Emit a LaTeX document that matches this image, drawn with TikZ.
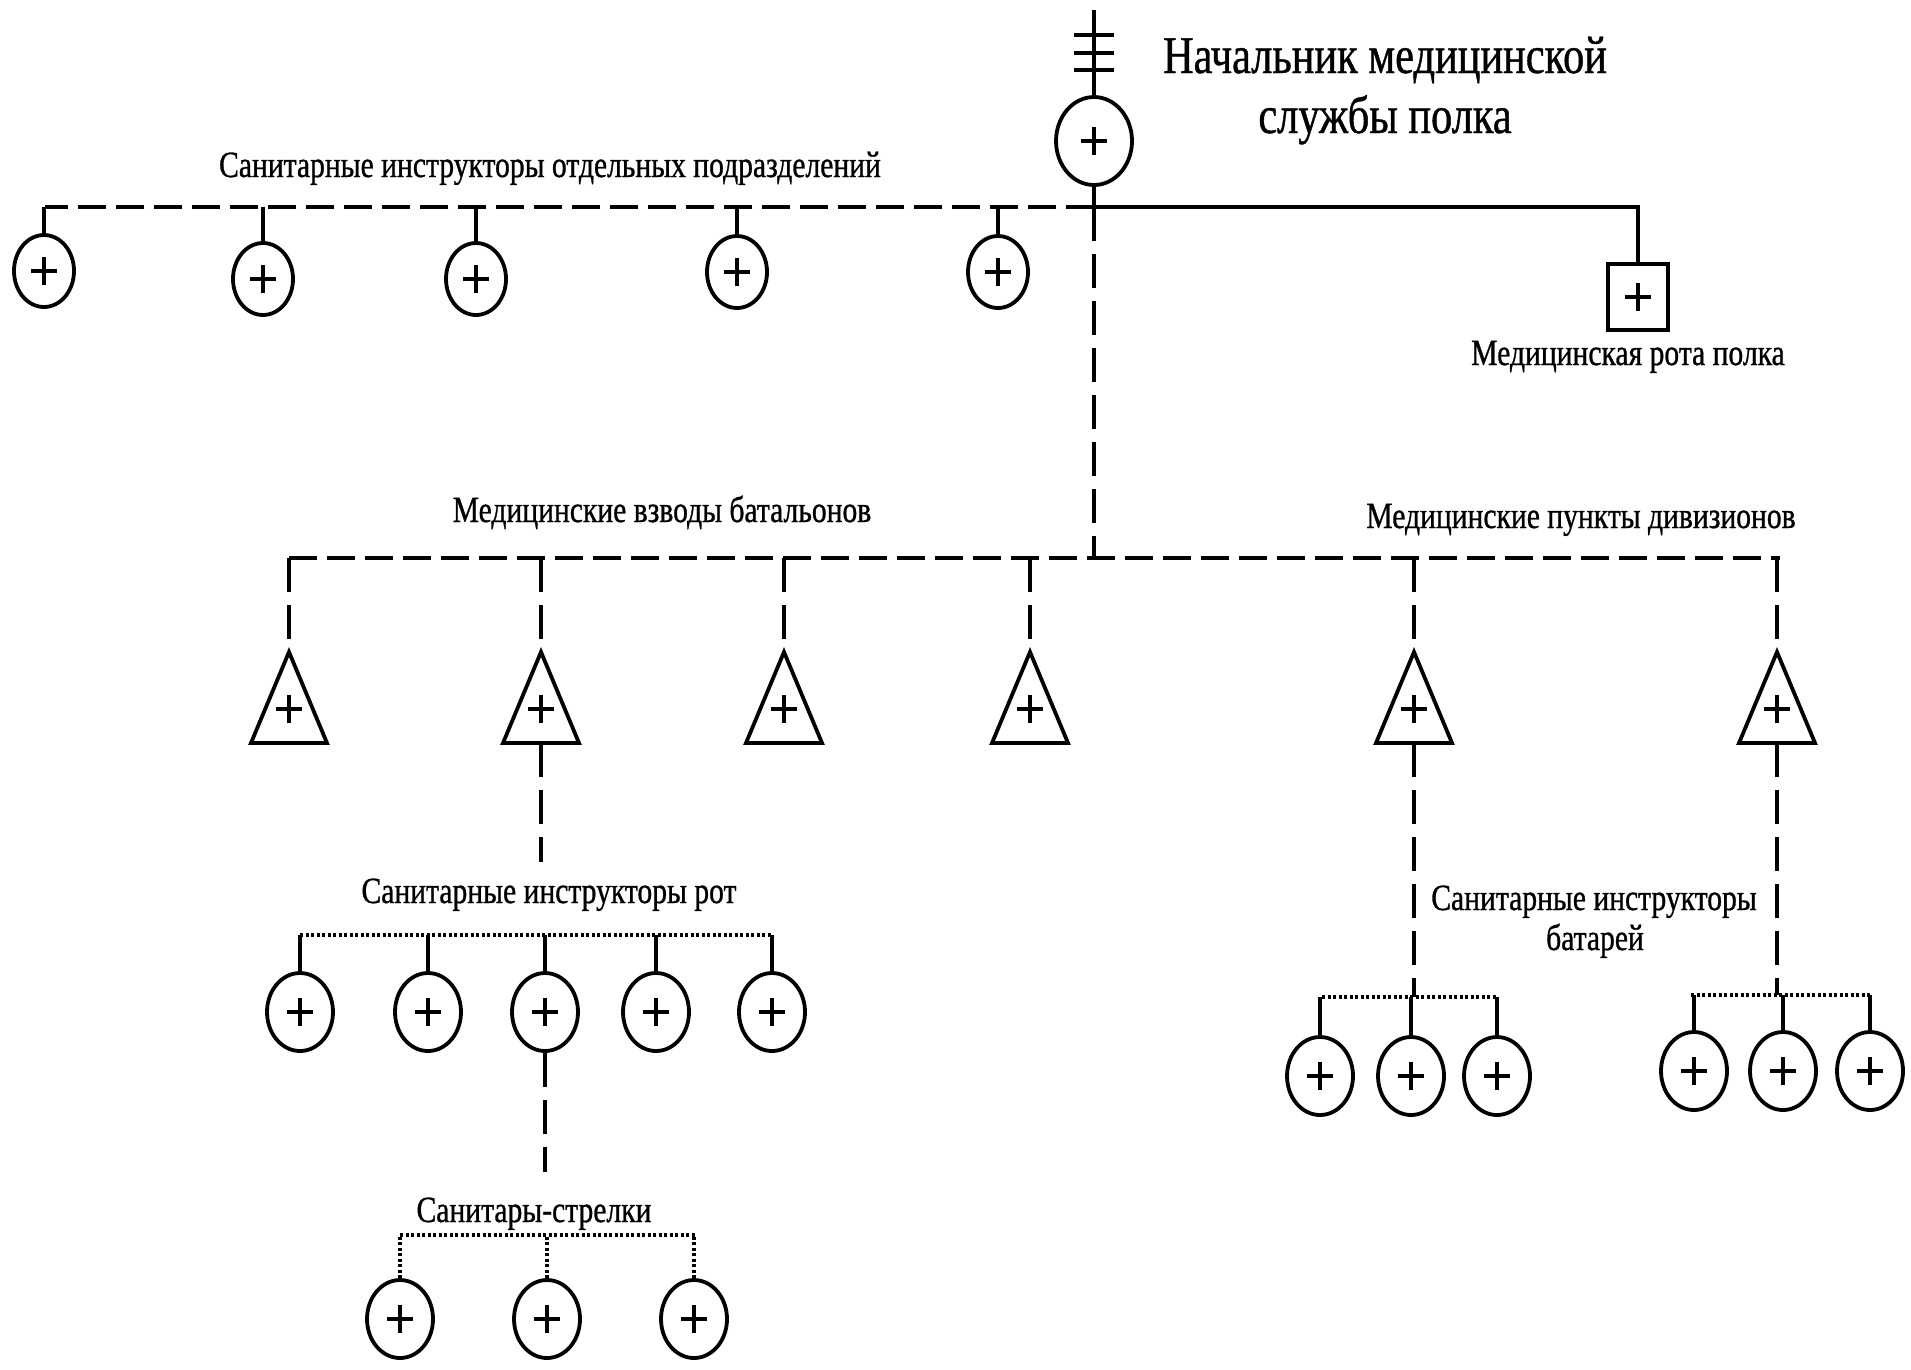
\documentclass[tikz,border=0pt]{standalone}
\usepackage{fontspec}
\setmainfont{Liberation Serif}[FakeStretch=0.8,FakeBold=0.8]
\usetikzlibrary{shapes.geometric}
\tikzset{
  ln/.style={line width=3.8pt},
  dsh/.style={line width=3.8pt, dash pattern=on 28pt off 10pt},
  vdsh/.style={line width=3.8pt, dash pattern=on 34pt off 13pt},
  dotl/.style={line width=3.5pt, dash pattern=on 3pt off 2.5pt},
  plusmark/.style={path picture={\draw[line width=3.4pt]
      ([xshift=-13pt]path picture bounding box.center) -- ([xshift=13pt]path picture bounding box.center)
      ([yshift=-14pt]path picture bounding box.center) -- ([yshift=14pt]path picture bounding box.center);}},
  med/.style={ellipse, draw, line width=3.8pt, minimum width=66pt, minimum height=78pt, inner sep=0pt, plusmark},
  medsm/.style={med, minimum width=60pt, minimum height=72pt},
  rotabox/.style={rectangle, draw, line width=3.8pt, minimum width=60pt, minimum height=66pt, inner sep=0pt, plusmark},
  lbl/.style={font=\fontsize{37}{40}\selectfont, anchor=base, inner sep=0pt},
  ttl/.style={font=\fontsize{53}{60}\selectfont, anchor=base, inner sep=0pt},
  medtri/.pic={\draw[line width=3.8pt, line join=miter] (0,0) -- (-38,91) -- (38,91) -- cycle;
               \draw[line width=3.4pt] (-13,57) -- (13,57) (0,43) -- (0,71);}
}
\begin{document}
\begin{tikzpicture}[x=1pt,y=-1pt]
\useasboundingbox[fill=white] (0,0) rectangle (1911,1369);

% chief
\node[med, minimum width=76pt, minimum height=88pt] (chief) at (1094,141) {};
\draw[ln] (chief.north) -- ++(0,-85);
\foreach \yy in {35,53,70} \draw[ln] (1074,\yy) -- (1114,\yy);
\node[ttl] (t1) at (1385,73) {Начальник медицинской};
\node[ttl] (t2) at (1385,133) {службы полка};
\coordinate (J) at (1094,207);
\draw[ln] (chief.south) -- (J);

% top-left row
\coordinate (L1) at (45,207);
\draw[dsh] (J) -- (L1);
\node[lbl] (lab1) at (550,177) {Санитарные инструкторы отдельных подразделений};
\node[medsm] (a1) at (44,271) {};
\node[medsm] (a2) at (263,279) {};
\node[medsm] (a3) at (476,279) {};
\node[medsm] (a4) at (737,272) {};
\node[medsm] (a5) at (998,272) {};
\foreach \n in {a1,a2,a3,a4,a5} \draw[ln] (\n.north) -- (\n.north |- L1);

% rota
\node[rotabox] (rota) at (1638,297) {};
\coordinate (R) at (1638,207);
\draw[ln] (J) -- (R) -- (rota.north);
\node[lbl] (lab2) at (1628,365) {Медицинская рота полка};

% main vertical and second level
\coordinate (M) at (1094,558);
\draw[vdsh] (J) -- (M);
\coordinate (HL) at (289,558);
\coordinate (HR) at (1780,558);
\draw[dsh] (HL) -- (HR);
\node[lbl] (lab3) at (662,522) {Медицинские взводы батальонов};
\node[lbl] (lab4) at (1581,528) {Медицинские пункты дивизионов};

\coordinate (p1) at (289,652);
\coordinate (p2) at (541,652);
\coordinate (p3) at (784,652);
\coordinate (p4) at (1030,652);
\coordinate (p5) at (1414,652);
\coordinate (p6) at (1777,652);
\foreach \n in {p1,p2,p3,p4,p5,p6} {
  \pic at (\n) {medtri};
  \draw[vdsh] (\n |- HL) -- (\n);
}
\coordinate (b2) at (541,743);
\coordinate (b5) at (1414,743);
\coordinate (b6) at (1777,743);

% company instructors
\coordinate (C) at (541,862);
\draw[vdsh] (b2) -- (C);
\node[lbl] (lab5) at (549,903) {Санитарные инструкторы рот};
\coordinate (DL) at (300,935);
\coordinate (DR) at (772,935);
\draw[dotl] (DL) -- (DR);
\node[med] (r1) at (300,1012) {};
\node[med] (r2) at (428,1012) {};
\node[med] (r3) at (545,1012) {};
\node[med] (r4) at (656,1012) {};
\node[med] (r5) at (772,1012) {};
\foreach \n in {r1,r2,r3,r4,r5} \draw[ln] (\n.north) -- (\n.north |- DL);

% rifle orderlies
\coordinate (S) at (545,1172);
\draw[vdsh] (r3.south) -- (S);
\node[lbl] (lab6) at (534,1222) {Санитары-стрелки};
\coordinate (EL) at (400,1235);
\coordinate (ER) at (695,1235);
\draw[dotl] (EL) -- (ER);
\node[med] (s1) at (400,1319) {};
\node[med] (s2) at (547,1319) {};
\node[med] (s3) at (694,1319) {};
\foreach \n in {s1,s2,s3} \draw[dotl] (\n.north) -- (\n.north |- EL);

% battery instructors
\node[lbl] (lab7) at (1594,910) {Санитарные инструкторы};
\node[lbl] (lab8) at (1595,950) {батарей};
\coordinate (FL) at (1322,997);
\coordinate (FR) at (1497,997);
\coordinate (GL) at (1691,995);
\coordinate (GR) at (1870,995);
\draw[vdsh] (b5) -- (b5 |- FL);
\draw[vdsh] (b6) -- (b6 |- GL);
\draw[dotl] (FL) -- (FR);
\draw[dotl] (GL) -- (GR);
\node[med] (u1) at (1320,1076) {};
\node[med] (u2) at (1411,1076) {};
\node[med] (u3) at (1497,1076) {};
\node[med] (v1) at (1694,1071) {};
\node[med] (v2) at (1783,1071) {};
\node[med] (v3) at (1870,1071) {};
\foreach \n in {u1,u2,u3} \draw[ln] (\n.north) -- (\n.north |- FL);
\foreach \n in {v1,v2,v3} \draw[ln] (\n.north) -- (\n.north |- GL);
\end{tikzpicture}
\end{document}
